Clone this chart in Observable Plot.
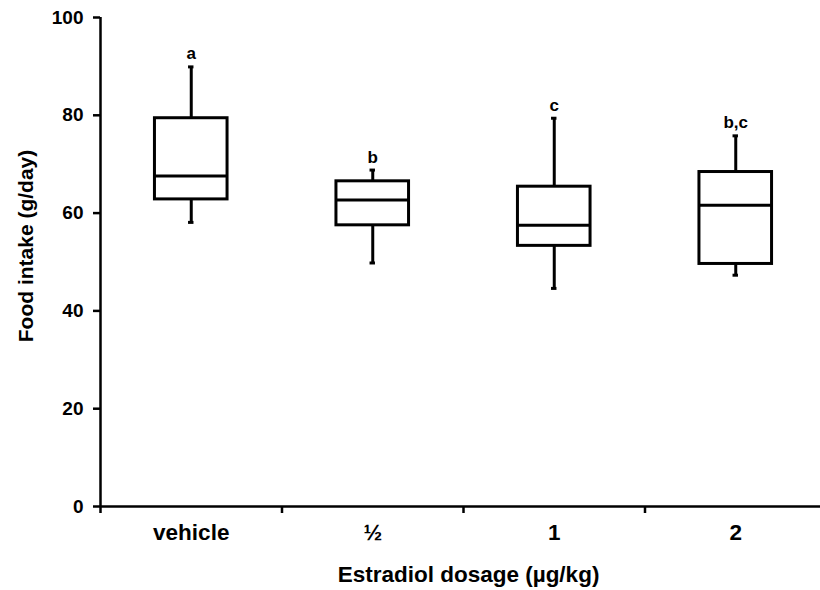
<!DOCTYPE html>
<html><head><meta charset="utf-8">
<script src="https://cdn.jsdelivr.net/npm/d3@7"></script>
<script src="https://cdn.jsdelivr.net/npm/@observablehq/plot@0.6"></script>
<style>body{margin:0;background:#fff;}</style>
</head><body><div id="chart"></div>
<script>
const categories = ["vehicle", "½", "1", "2"];
const whiskerLow = [58.1, 49.8, 44.6, 47.3];
const q1 = [62.8, 57.5, 53.3, 49.6];
const median = [67.6, 62.7, 57.5, 61.6];
const q3 = [79.4, 66.5, 65.4, 68.4];
const whiskerHigh = [89.9, 68.8, 79.4, 75.8];
const letters = ["a", "b", "c", "b,c"];
const yTicks = [0, 20, 40, 60, 80, 100];
const xTitle = "Estradiol dosage (µg/kg)";
const yTitle = "Food intake (g/day)";

const data = categories.map((c, i) => ({
  c, i, lo: whiskerLow[i], q1: q1[i], med: median[i], q3: q3[i], hi: whiskerHigh[i], letter: letters[i]
}));
const boxHalf = 0.2, capHalf = 0.015;
const cx = d => d.i + 0.5;
const sw = 3;

const chart = Plot.plot({
  width: 820, height: 590,
  marginLeft: 100, marginRight: 0, marginTop: 17, marginBottom: 84,
  style: {fontFamily: "'Liberation Sans', Arial, sans-serif", fontWeight: "bold", background: "#fff", color: "#000"},
  x: {type: "linear", domain: [0, categories.length], range: [100, 826]},
  y: {domain: [0, 100]},
  marks: [
    Plot.axisY({ticks: yTicks, tickSize: 7, tickPadding: 10, fontSize: 19, fontWeight: "bold", strokeWidth: 2.5, label: null}),
    Plot.axisX({ticks: d3.range(categories.length + 1), tickSize: 7, tickFormat: () => "", strokeWidth: 2.5, label: null}),
    Plot.axisX({ticks: categories.map((c, i) => i + 0.5), tickSize: 0, tickPadding: 18, fontSize: 22.5, fontWeight: "bold",
      tickFormat: v => categories[Math.floor(v)], label: null}),
    Plot.ruleX([0], {y1: 0, y2: 100, strokeWidth: 2.5}),
    Plot.ruleY([0], {strokeWidth: 2.5}),
    Plot.ruleX(data, {x: cx, y1: "q3", y2: "hi", strokeWidth: sw}),
    Plot.ruleX(data, {x: cx, y1: "lo", y2: "q1", strokeWidth: sw}),
    Plot.ruleY(data, {y: "hi", x1: d => cx(d) - capHalf, x2: d => cx(d) + capHalf, strokeWidth: sw}),
    Plot.ruleY(data, {y: "lo", x1: d => cx(d) - capHalf, x2: d => cx(d) + capHalf, strokeWidth: sw}),
    Plot.rect(data, {x1: d => cx(d) - boxHalf, x2: d => cx(d) + boxHalf, y1: "q1", y2: "q3",
      fill: "white", stroke: "black", strokeWidth: sw}),
    Plot.ruleY(data, {y: "med", x1: d => cx(d) - boxHalf, x2: d => cx(d) + boxHalf, strokeWidth: sw}),
    Plot.text(data, {x: cx, y: "hi", text: "letter", dy: -13, fontSize: 17, fontWeight: "bold"}),
    Plot.text([yTitle], {frameAnchor: "left", textAnchor: "middle", lineAnchor: "middle", dx: -74, dy: -16, rotate: -90, fontSize: 21, fontWeight: "bold"}),
    Plot.text([xTitle], {frameAnchor: "bottom", lineAnchor: "middle", dy: 68, dx: 8, fontSize: 22.5, fontWeight: "bold"})
  ]
});
document.getElementById("chart").append(chart);
</script>
</body></html>
